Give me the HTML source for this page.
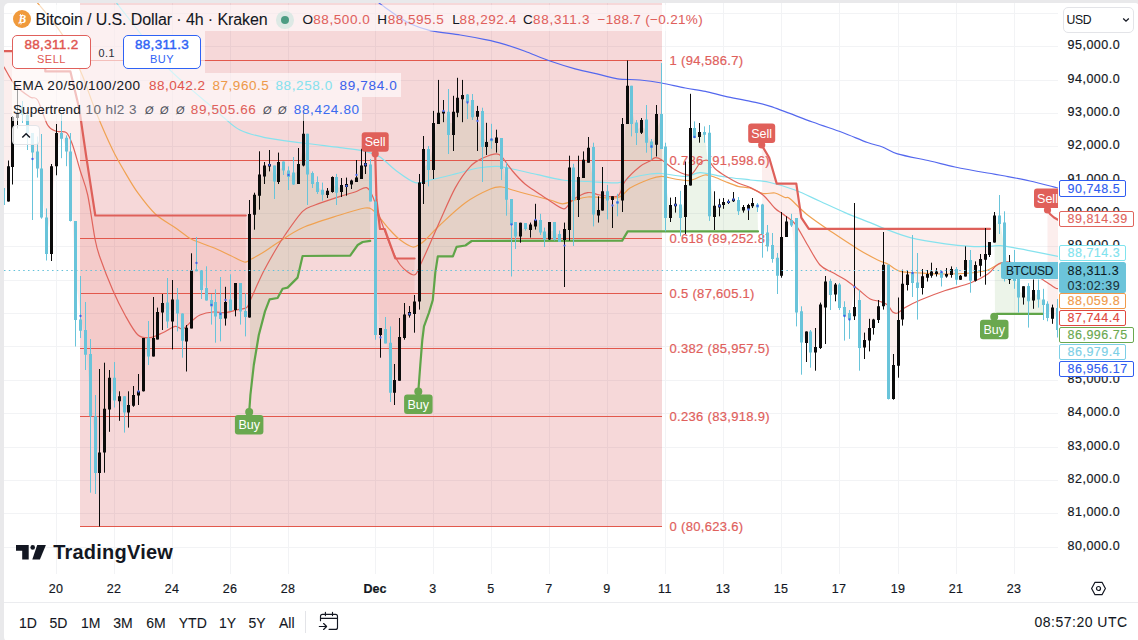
<!DOCTYPE html>
<html><head><meta charset="utf-8"><title>BTCUSD</title>
<style>
*{box-sizing:border-box;margin:0;padding:0}
html,body{width:1138px;height:640px;overflow:hidden;background:#e9e9eb;font-family:"Liberation Sans",sans-serif;color:#131722}
#panel{position:absolute;left:4px;top:3px;width:1135.5px;height:639px;background:#fff;border-radius:5px}
#root{position:absolute;left:0;top:0;width:1138px;height:640px}
.ov{position:absolute;background:rgba(255,255,255,.62)}
.t{position:absolute;white-space:nowrap;line-height:1;-webkit-text-stroke:.06px currentColor}
#axis{position:absolute;left:1058px;top:3px;width:80px;height:571px;background:#fff;border-top-right-radius:5px}
.pt{-webkit-text-stroke:.18px currentColor;position:absolute;left:1067.5px;font-size:12.5px;letter-spacing:.5px;line-height:17px;height:17px;white-space:nowrap;color:#131722}
.pl{-webkit-text-stroke:.15px currentColor;position:absolute;left:1059px;border:1px solid;border-radius:2px;font-size:12.5px;letter-spacing:.5px;white-space:nowrap}
.pl span{position:absolute;left:7.5px;top:50%;transform:translateY(-50%);line-height:1}
.tl{-webkit-text-stroke:.18px currentColor;position:absolute;top:581.6px;width:60px;text-align:center;font-size:12.5px;letter-spacing:.4px;line-height:14px}
.tl.b{font-weight:bold;letter-spacing:0}
.rg{-webkit-text-stroke:.1px currentColor;position:absolute;top:614.8px;width:50px;text-align:center;font-size:14px;letter-spacing:.05px;line-height:17px;color:#131722}
.btn{position:absolute;top:35px;height:34px;border:1.2px solid;border-radius:5px;background:#fff;text-align:center}
.btn b{display:block;font-weight:normal;-webkit-text-stroke:.42px currentColor;font-size:13.5px;line-height:13px;margin-top:2.2px;letter-spacing:.32px}
.btn i{display:block;font-style:normal;font-size:11px;line-height:12px;margin-top:1.6px;letter-spacing:.5px}
</style></head><body>
<div id="panel"></div>
<div id="root">
<svg width="1138" height="640" viewBox="0 0 1138 640" style="position:absolute;left:0;top:0">
<defs><clipPath id="pane"><rect x="4" y="3" width="1054" height="571"/></clipPath></defs>
<g clip-path="url(#pane)">
<path d="M4 547.5H1058 M4 513.5H1058 M4 480.5H1058 M4 447.5H1058 M4 413.5H1058 M4 380.5H1058 M4 346.5H1058 M4 313.5H1058 M4 280.5H1058 M4 246.5H1058 M4 213.5H1058 M4 180.5H1058 M4 146.5H1058 M4 113.5H1058 M4 80.5H1058 M4 46.5H1058 M4 13.5H1058 M56.5 3V574 M114.5 3V574 M172.5 3V574 M230.5 3V574 M288.5 3V574 M375.5 3V574 M433.5 3V574 M491.5 3V574 M549.5 3V574 M607.5 3V574 M665.5 3V574 M723.5 3V574 M781.5 3V574 M839.5 3V574 M898.5 3V574 M956.5 3V574 M1014.5 3V574" stroke="#f2f3f5" stroke-width="1" fill="none"/>
<rect x="80" y="3" width="582" height="523.5" fill="#d23a41" fill-opacity="0.2"/>
<g clip-path="url(#pane)"><path d="M4 547.5H1058 M4 513.5H1058 M4 480.5H1058 M4 447.5H1058 M4 413.5H1058 M4 380.5H1058 M4 346.5H1058 M4 313.5H1058 M4 280.5H1058 M4 246.5H1058 M4 213.5H1058 M4 180.5H1058 M4 146.5H1058 M4 113.5H1058 M4 80.5H1058 M4 46.5H1058 M4 13.5H1058 M56.5 3V574 M114.5 3V574 M172.5 3V574 M230.5 3V574 M288.5 3V574 M375.5 3V574 M433.5 3V574 M491.5 3V574 M549.5 3V574 M607.5 3V574 M665.5 3V574 M723.5 3V574 M781.5 3V574 M839.5 3V574 M898.5 3V574 M956.5 3V574 M1014.5 3V574" stroke="#000" stroke-opacity="0" stroke-width="1" fill="none"/></g>
<polygon points="4.0,51.2 45.3,51.2 45.3,71.4 70.4,71.4 79.2,108.4 86.4,157.6 95.3,215.5 245.8,215.5 245.5,314.4 240.5,300.5 235.5,298.1 230.5,298.9 225.5,308.2 220.5,312.5 215.5,312.6 211.5,306.2 206.5,288.9 201.5,282.5 196.5,262.3 191.5,295.2 186.5,341.4 182.5,331.3 177.5,308.0 172.5,312.5 167.5,307.5 162.5,309.9 157.5,324.6 153.5,337.0 148.5,345.1 143.5,364.7 138.5,391.4 133.5,398.4 128.5,409.1 124.5,409.5 119.5,402.4 114.5,386.9 109.5,397.2 104.5,424.2 99.5,455.3 95.5,444.6 90.5,400.5 85.5,339.2 80.5,316.1 75.5,277.1 70.5,181.7 66.5,147.7 61.5,135.9 56.5,149.6 51.5,211.3 46.5,235.1 41.5,184.7 37.5,158.5 32.5,159.6 27.5,127.9 22.5,111.5 17.5,111.9 12.5,146.1 8.5,182.5 3.5,195.8" fill="#e0574f" fill-opacity="0.1"/>
<polygon points="375.2,153.8 376.5,200.0 380.0,229.0 384.7,229.0 395.3,258.5 414.6,258.5 414.5,310.8 409.5,312.8 404.5,323.8 399.5,354.1 394.5,385.4 390.5,366.0 385.5,333.2 380.5,337.2 375.5,268.0" fill="#e0574f" fill-opacity="0.1"/>
<polygon points="761.7,145.0 769.2,157.7 776.7,183.6 796.3,183.6 801.3,217.6 808.8,228.9 990.0,228.9 989.5,249.0 985.5,256.6 980.5,263.8 975.5,272.1 970.5,270.9 965.5,264.9 960.5,277.6 956.5,275.1 951.5,272.0 946.5,274.1 941.5,277.1 936.5,272.5 931.5,271.9 927.5,275.8 922.5,281.9 917.5,285.8 912.5,271.9 907.5,280.0 902.5,299.7 898.5,340.2 893.5,379.4 888.5,332.0 883.5,278.1 878.5,312.3 873.5,325.2 869.5,334.7 864.5,344.8 859.5,327.2 854.5,286.6 849.5,320.4 844.5,316.3 839.5,296.4 835.5,290.8 830.5,291.2 825.5,302.3 820.5,326.1 815.5,349.6 810.5,345.4 806.5,341.9 801.5,333.7 796.5,268.8 791.5,221.6 786.5,227.9 781.5,250.6 777.5,270.1 772.5,249.9 767.5,238.8 762.5,225.0" fill="#e0574f" fill-opacity="0.1"/>
<polygon points="1047.5,210.0 1050.0,214.0 1054.0,217.5 1058.0,219.7 1058.0,300.0 1057.5,318.6 1052.5,313.7 1047.5,311.1" fill="#e0574f" fill-opacity="0.1"/>
<polygon points="250.4,395.0 253.8,365.0 258.8,335.0 265.0,311.4 269.6,299.4 277.6,298.0 282.6,288.8 287.6,287.6 297.6,277.6 302.6,256.0 350.2,255.6 357.7,245.0 362.7,242.0 370.2,240.8 370.5,181.6 365.5,163.6 361.5,168.1 356.5,175.4 351.5,183.5 346.5,186.1 341.5,188.0 336.5,187.1 332.5,184.5 327.5,192.9 322.5,191.9 317.5,186.1 312.5,179.1 307.5,161.8 303.5,143.9 298.5,170.0 293.5,174.8 288.5,176.0 283.5,167.1 278.5,170.2 274.5,177.9 269.5,162.9 264.5,172.0 259.5,182.8 254.5,207.9 249.5,262.3" fill="#5fa548" fill-opacity="0.12"/>
<polygon points="420.3,365.0 422.3,340.0 424.0,326.4 429.0,312.6 432.8,300.0 435.3,272.6 437.8,256.3 452.9,256.3 456.6,246.8 465.4,245.5 471.7,241.0 622.2,240.6 627.7,231.4 758.0,231.4 757.5,206.8 752.5,203.8 748.5,209.4 743.5,208.8 738.5,205.8 733.5,198.5 728.5,201.9 723.5,203.4 719.5,206.8 714.5,211.0 709.5,173.7 704.5,133.9 699.5,133.7 694.5,131.3 690.5,148.2 685.5,199.4 680.5,212.5 675.5,204.9 670.5,210.7 665.5,184.6 661.5,118.7 656.5,130.0 651.5,147.0 646.5,130.0 641.5,126.2 636.5,130.2 631.5,108.0 627.5,98.6 622.5,163.7 617.5,203.8 612.5,205.2 607.5,199.1 602.5,194.9 598.5,211.1 593.5,182.7 588.5,152.5 583.5,166.8 578.5,187.4 573.5,194.3 569.5,198.4 564.5,244.6 559.5,237.1 554.5,231.0 549.5,230.9 544.5,236.4 540.5,225.3 535.5,219.9 530.5,228.7 525.5,226.4 520.5,231.1 515.5,232.4 511.5,224.9 506.5,186.4 501.5,156.2 496.5,140.7 491.5,138.2 486.5,141.7 482.5,136.9 477.5,121.1 472.5,107.8 467.5,102.4 462.5,99.1 457.5,101.4 453.5,123.4 448.5,122.5 443.5,111.8 438.5,110.2 433.5,145.7 428.5,162.8 423.5,168.2 419.5,241.9" fill="#5fa548" fill-opacity="0.12"/>
<polygon points="995.0,314.5 997.0,313.8 1043.0,313.8 1043.5,303.4 1038.5,294.2 1033.5,294.7 1028.5,299.5 1023.5,293.7 1018.5,291.3 1014.5,273.9 1009.5,272.2 1004.5,248.6 999.5,217.1 994.5,228.2" fill="#5fa548" fill-opacity="0.12"/>
<path d="M80 60.5H662" stroke="#e2584c" stroke-width="1"/>
<path d="M80 160.5H662" stroke="#e2584c" stroke-width="1"/>
<path d="M80 238.5H662" stroke="#e2584c" stroke-width="1"/>
<path d="M80 293.5H662" stroke="#e2584c" stroke-width="1"/>
<path d="M80 348.5H662" stroke="#e2584c" stroke-width="1"/>
<path d="M80 416.5H662" stroke="#e2584c" stroke-width="1"/>
<path d="M80 526.5H662" stroke="#e2584c" stroke-width="1"/>
<text x="669.6" y="65.1" font-size="13" letter-spacing="0.3" stroke="#e0605c" stroke-width="0.2" fill="#e0605c" font-family="Liberation Sans, sans-serif">1 (94,586.7)</text>
<text x="669.6" y="164.8" font-size="13" letter-spacing="0.3" stroke="#e0605c" stroke-width="0.2" fill="#e0605c" font-family="Liberation Sans, sans-serif">0.786 (91,598.6)</text>
<text x="669.6" y="243.0" font-size="13" letter-spacing="0.3" stroke="#e0605c" stroke-width="0.2" fill="#e0605c" font-family="Liberation Sans, sans-serif">0.618 (89,252.8)</text>
<text x="669.6" y="298.0" font-size="13" letter-spacing="0.3" stroke="#e0605c" stroke-width="0.2" fill="#e0605c" font-family="Liberation Sans, sans-serif">0.5 (87,605.1)</text>
<text x="669.6" y="353.0" font-size="13" letter-spacing="0.3" stroke="#e0605c" stroke-width="0.2" fill="#e0605c" font-family="Liberation Sans, sans-serif">0.382 (85,957.5)</text>
<text x="669.6" y="421.0" font-size="13" letter-spacing="0.3" stroke="#e0605c" stroke-width="0.2" fill="#e0605c" font-family="Liberation Sans, sans-serif">0.236 (83,918.9)</text>
<text x="669.6" y="530.9" font-size="13" letter-spacing="0.3" stroke="#e0605c" stroke-width="0.2" fill="#e0605c" font-family="Liberation Sans, sans-serif">0 (80,623.6)</text>
<path d="M379.0 3.0C380.0 3.7 382.2 5.4 385.2 7.5C388.2 9.6 393.7 13.7 397.7 16.3C401.7 18.9 405.0 21.5 410.2 23.8C415.4 26.1 422.3 28.8 430.3 30.6C438.3 32.4 451.5 33.6 460.3 35.0C469.1 36.4 478.5 38.2 485.3 39.6C492.1 41.0 496.5 41.9 502.9 43.8C509.3 45.7 517.5 48.5 525.0 51.3C532.5 54.1 542.0 58.2 550.0 61.0C558.0 63.8 567.1 66.6 575.1 68.8C583.1 71.0 593.2 73.0 600.0 74.6C606.8 76.2 611.3 77.9 617.7 78.8C624.1 79.7 633.0 79.3 640.0 80.0C647.0 80.7 654.3 81.7 661.5 83.0C668.7 84.3 678.3 86.7 685.3 88.0C692.3 89.3 699.0 90.0 705.4 91.3C711.8 92.6 718.2 94.7 725.4 96.3C732.6 97.9 743.2 99.8 750.4 101.4C757.6 103.0 760.6 103.1 770.5 106.4C780.4 109.7 801.0 117.8 812.5 122.0C824.0 126.2 833.7 129.2 842.5 132.5C851.3 135.8 861.1 140.2 867.5 142.5C873.9 144.8 877.7 145.2 882.5 147.0C887.3 148.8 889.9 151.6 897.5 153.8C905.1 156.0 920.8 158.9 930.0 161.0C939.2 163.1 945.8 165.1 955.0 167.0C964.2 168.9 979.5 171.6 987.5 173.0C995.5 174.4 998.2 174.7 1005.0 176.0C1011.8 177.3 1021.5 179.1 1030.0 181.0C1038.5 182.9 1053.5 186.9 1058.0 188.0" fill="none" stroke="#5468ee" stroke-width="1.2" stroke-linejoin="round" stroke-linecap="round"/>
<path d="M116.5 3.0C119.9 7.3 130.3 20.5 137.7 30.0C145.1 39.5 154.8 53.6 162.8 62.6C170.8 71.6 179.8 79.2 187.8 86.4C195.8 93.6 206.9 102.5 212.9 107.7C218.9 112.9 221.1 115.4 225.4 119.0C229.7 122.6 233.7 127.0 240.0 130.0C246.3 133.0 255.0 135.5 265.0 137.6C275.0 139.7 290.6 141.4 302.6 143.0C314.6 144.6 330.0 146.3 340.0 147.6C350.0 148.9 358.6 149.8 365.0 151.3C371.4 152.8 375.2 154.0 380.0 157.0C384.8 160.0 389.7 165.9 395.3 170.0C400.9 174.1 409.7 181.0 415.3 182.6C420.9 184.2 423.9 181.4 430.3 180.0C436.7 178.6 447.8 175.8 455.4 173.9C463.0 172.0 471.2 169.2 478.0 168.0C484.8 166.8 492.5 166.2 498.0 166.4C503.5 166.6 506.2 167.7 512.5 169.0C518.8 170.3 529.6 172.9 537.6 174.7C545.6 176.5 554.6 178.9 562.6 180.0C570.6 181.1 578.9 181.1 587.7 181.5C596.5 181.9 610.9 183.4 617.7 182.8C624.5 182.2 625.0 179.4 630.2 178.0C635.4 176.6 645.3 174.7 650.3 174.0C655.3 173.3 655.9 173.1 661.5 173.5C667.1 173.9 679.1 176.6 685.3 176.5C691.5 176.4 694.0 172.6 700.4 172.7C706.8 172.8 717.4 175.8 725.4 177.0C733.4 178.2 743.3 179.1 750.4 180.0C757.5 180.9 762.9 180.9 770.0 182.5C777.1 184.1 787.0 187.0 795.0 190.0C803.0 193.0 812.0 197.7 820.0 201.3C828.0 204.9 837.0 209.2 845.0 212.6C853.0 216.0 863.8 220.0 870.2 222.6C876.6 225.2 878.8 226.5 885.2 228.9C891.6 231.3 900.6 235.2 910.2 237.6C919.8 240.0 935.7 242.5 945.3 243.9C954.9 245.3 963.2 246.0 970.4 246.4C977.6 246.8 985.6 246.5 990.4 246.4C995.2 246.3 995.6 245.2 1000.4 245.6C1005.2 246.0 1013.2 247.6 1020.4 248.9C1027.6 250.2 1039.5 252.7 1045.5 253.9C1051.5 255.1 1056.0 256.0 1058.0 256.4" fill="none" stroke="#86e2ee" stroke-width="1.2" stroke-linejoin="round" stroke-linecap="round"/>
<path d="M37.6 3.0C39.6 5.4 46.0 12.9 50.0 18.0C54.0 23.1 59.1 29.4 62.6 35.0C66.1 40.6 68.8 46.4 72.0 53.0C75.2 59.6 78.7 66.4 82.6 76.0C86.5 85.6 91.6 101.2 96.4 113.0C101.2 124.8 108.1 140.5 112.7 150.0C117.3 159.5 121.2 165.8 125.2 172.6C129.2 179.4 132.9 186.1 137.7 192.7C142.5 199.3 149.3 208.4 155.3 214.0C161.3 219.6 169.7 223.8 175.3 227.7C180.9 231.6 186.3 236.1 190.3 238.5C194.3 240.9 196.8 241.4 200.4 242.8C204.0 244.2 208.2 245.5 213.0 247.5C217.8 249.5 225.4 253.2 230.4 255.5C235.4 257.8 241.0 261.4 244.2 262.0C247.4 262.6 247.4 261.0 250.4 259.5C253.4 258.0 258.6 255.2 263.0 252.5C267.4 249.8 271.3 246.7 277.6 242.7C283.9 238.7 292.6 232.1 302.6 227.7C312.6 223.3 330.0 218.2 340.0 215.0C350.0 211.8 359.8 208.8 365.0 208.0C370.2 207.2 370.3 208.4 372.7 210.0C375.1 211.6 377.2 214.8 380.0 218.0C382.8 221.2 386.8 226.5 390.0 230.0C393.2 233.5 396.7 237.3 400.3 240.0C403.9 242.7 409.6 246.4 412.8 247.0C416.0 247.6 418.0 245.1 420.0 244.0C422.0 242.9 422.1 243.0 425.3 240.0C428.5 237.0 433.6 231.0 440.0 225.0C446.4 219.0 457.3 208.5 465.4 202.7C473.5 196.9 484.6 191.5 490.4 189.0C496.2 186.5 498.2 186.8 501.7 187.0C505.2 187.2 508.8 189.0 512.5 190.0C516.2 191.0 519.0 191.9 525.0 193.5C531.0 195.1 544.0 198.4 550.0 200.0C556.0 201.6 558.6 203.8 562.6 203.8C566.6 203.8 571.0 201.1 575.0 200.0C579.0 198.9 580.9 197.4 587.7 197.0C594.5 196.6 610.9 199.0 617.7 197.6C624.5 196.2 624.8 191.0 630.0 188.0C635.2 185.0 645.0 180.9 650.0 179.0C655.0 177.1 657.5 176.4 661.5 176.4C665.5 176.4 670.4 178.3 675.0 179.0C679.6 179.7 685.2 181.1 690.0 180.5C694.8 179.9 700.9 175.5 705.0 175.0C709.1 174.5 712.2 176.5 715.4 177.5C718.6 178.5 721.4 180.1 725.0 181.5C728.6 182.9 734.0 185.3 738.0 186.3C742.0 187.3 746.0 186.8 750.0 188.0C754.0 189.2 759.0 192.7 763.0 193.5C767.0 194.3 771.5 192.4 775.0 193.0C778.5 193.6 782.6 196.6 785.0 197.5C787.4 198.4 786.4 196.0 790.0 198.8C793.6 201.6 800.8 209.6 807.6 215.0C814.4 220.4 824.6 227.2 832.6 232.6C840.6 238.0 850.5 244.5 857.7 248.9C864.9 253.3 872.9 257.6 877.7 260.0C882.5 262.4 884.1 262.2 887.7 264.0C891.3 265.8 895.0 270.0 900.2 271.4C905.4 272.8 913.1 272.6 920.3 273.0C927.5 273.4 937.3 274.0 945.3 274.0C953.3 274.0 963.6 273.6 970.4 273.0C977.2 272.4 983.3 271.4 987.9 270.0C992.5 268.6 995.7 265.1 999.2 264.0C1002.7 262.9 1005.9 262.4 1010.0 263.0C1014.1 263.6 1020.2 266.4 1025.0 268.0C1029.8 269.6 1034.7 271.4 1040.0 273.0C1045.3 274.6 1055.1 277.4 1058.0 278.2" fill="none" stroke="#f0a252" stroke-width="1.2" stroke-linejoin="round" stroke-linecap="round"/>
<path d="M4.0 67.0C5.8 69.9 10.8 80.2 15.0 85.0C19.2 89.8 26.4 94.6 30.0 97.0C33.6 99.4 34.8 95.5 37.6 100.0C40.4 104.5 44.6 120.0 47.6 125.0C50.6 130.0 53.3 130.1 56.3 131.3C59.3 132.5 63.8 130.4 66.4 132.6C69.0 134.8 70.4 139.0 72.6 145.0C74.8 151.0 77.6 162.0 80.0 170.0C82.4 178.0 85.3 183.8 87.7 195.0C90.1 206.2 93.2 230.0 95.2 240.0C97.2 250.0 97.2 249.5 100.0 257.5C102.8 265.5 108.7 280.8 112.7 290.0C116.7 299.2 121.0 307.8 125.0 315.0C129.0 322.2 133.7 331.1 137.7 334.7C141.7 338.3 146.0 338.0 150.0 337.7C154.0 337.4 158.8 334.5 162.8 332.7C166.8 330.9 172.1 327.0 175.3 326.4C178.5 325.8 180.0 330.0 182.8 329.0C185.6 328.0 190.0 322.2 192.8 320.0C195.6 317.8 196.8 316.3 200.0 315.0C203.2 313.7 208.8 312.4 212.9 312.0C217.0 311.6 221.4 313.0 225.4 312.6C229.4 312.2 234.6 310.4 238.0 309.6C241.4 308.8 244.7 309.1 246.7 307.6C248.7 306.1 247.8 305.6 250.4 300.0C253.0 294.4 259.0 280.6 263.0 272.6C267.0 264.6 272.0 256.0 275.5 250.0C279.0 244.0 280.7 241.2 285.0 235.0C289.3 228.8 297.8 216.2 302.6 211.4C307.4 206.6 309.0 207.4 315.0 205.0C321.0 202.6 333.6 198.5 340.0 196.4C346.4 194.3 350.8 193.4 355.0 192.0C359.2 190.6 363.7 186.9 366.5 187.6C369.3 188.3 370.5 191.6 372.7 196.4C374.9 201.2 377.2 209.9 380.0 217.7C382.8 225.5 386.8 237.4 390.0 245.0C393.2 252.6 396.5 260.2 400.3 265.0C404.1 269.8 410.8 275.0 414.0 275.0C417.2 275.0 417.5 270.6 420.3 265.0C423.1 259.4 428.4 247.2 431.6 240.0C434.8 232.8 436.6 228.4 440.4 220.0C444.2 211.6 450.6 196.2 455.4 187.6C460.2 179.0 466.0 171.1 470.4 166.4C474.8 161.7 478.8 160.0 483.0 158.0C487.2 156.0 493.6 153.8 496.7 153.8C499.8 153.8 500.0 154.9 502.5 157.7C505.0 160.5 508.9 166.8 512.5 171.0C516.1 175.2 521.0 180.5 525.0 184.0C529.0 187.5 533.6 190.0 537.6 192.7C541.6 195.4 545.8 198.4 550.0 201.0C554.2 203.6 560.3 209.0 563.9 208.8C567.5 208.6 568.8 202.6 572.6 200.0C576.4 197.4 583.3 193.4 587.7 192.6C592.1 191.8 595.2 194.5 600.0 195.0C604.8 195.5 613.7 198.2 617.7 196.0C621.7 193.8 621.6 185.7 625.2 181.0C628.8 176.3 636.0 169.7 640.0 166.5C644.0 163.3 647.6 162.4 650.0 161.0C652.4 159.6 653.5 157.9 655.3 157.7C657.1 157.5 658.3 157.7 661.5 159.7C664.7 161.7 670.7 167.6 675.3 170.0C679.9 172.4 686.3 176.2 690.3 175.0C694.3 173.8 697.6 164.9 700.4 162.6C703.2 160.3 705.6 159.5 708.0 160.5C710.4 161.5 712.6 166.5 715.4 169.0C718.2 171.5 721.8 173.8 725.4 176.0C729.0 178.2 734.0 181.1 738.0 183.0C742.0 184.9 746.4 185.7 750.4 187.6C754.4 189.5 759.0 191.6 763.0 195.0C767.0 198.4 772.4 205.8 775.5 208.8C778.6 211.8 779.4 211.4 782.5 213.8C785.6 216.2 791.0 218.8 795.0 223.8C799.0 228.8 803.6 238.4 807.6 245.0C811.6 251.6 816.0 260.6 820.0 265.0C824.0 269.4 828.6 270.3 832.6 272.6C836.6 274.9 841.0 276.9 845.0 279.5C849.0 282.1 853.7 285.9 857.7 289.0C861.7 292.1 866.6 297.0 870.2 299.0C873.8 301.0 877.4 300.5 880.2 301.5C883.0 302.5 885.7 303.3 887.7 305.0C889.7 306.7 891.1 310.7 892.7 312.0C894.3 313.3 895.7 313.7 897.7 313.0C899.7 312.3 901.6 309.7 905.2 307.6C908.8 305.5 913.9 302.7 920.3 300.0C926.7 297.3 937.3 293.2 945.3 290.5C953.3 287.8 963.6 285.6 970.4 283.0C977.2 280.4 983.9 276.7 987.9 274.0C991.9 271.3 993.4 268.2 995.4 266.4C997.4 264.6 998.1 263.7 1000.4 263.0C1002.7 262.3 1006.9 261.5 1010.0 262.0C1013.1 262.5 1016.8 264.4 1020.0 266.0C1023.2 267.6 1026.5 269.9 1030.0 272.0C1033.5 274.1 1037.7 276.5 1041.7 279.0C1045.7 281.5 1052.4 286.1 1055.0 287.7C1057.6 289.3 1057.5 288.5 1058.0 288.7" fill="none" stroke="#e0645c" stroke-width="1.2" stroke-linejoin="round" stroke-linecap="round"/>
<polyline points="4.0,51.2 45.3,51.2 45.3,71.4 70.4,71.4 79.2,108.4 86.4,157.6 95.3,215.5 245.8,215.5" fill="none" stroke="#de605a" stroke-width="2.2" stroke-linejoin="round" stroke-linecap="round" />
<polyline points="375.2,153.8 376.5,200.0 380.0,229.0 384.7,229.0 395.3,258.5 414.6,258.5" fill="none" stroke="#de605a" stroke-width="2.2" stroke-linejoin="round" stroke-linecap="round" />
<polyline points="761.7,145.0 769.2,157.7 776.7,183.6 796.3,183.6 801.3,217.6 808.8,228.9 990.0,228.9" fill="none" stroke="#de605a" stroke-width="2.2" stroke-linejoin="round" stroke-linecap="round" />
<polyline points="1047.5,210.0 1050.0,214.0 1054.0,217.5 1058.0,219.7" fill="none" stroke="#de605a" stroke-width="2.2" stroke-linejoin="round" stroke-linecap="round" />
<polyline points="249.2,412.0 250.4,395.0 253.8,365.0 258.8,335.0 265.0,311.4 269.6,299.4 277.6,298.0 282.6,288.8 287.6,287.6 297.6,277.6 302.6,256.0 350.2,255.6 357.7,245.0 362.7,242.0 370.2,240.8" fill="none" stroke="#5fa548" stroke-width="2.2" stroke-linejoin="round" stroke-linecap="round" />
<polyline points="418.3,391.5 420.3,365.0 422.3,340.0 424.0,326.4 429.0,312.6 432.8,300.0 435.3,272.6 437.8,256.3 452.9,256.3 456.6,246.8 465.4,245.5 471.7,241.0 622.2,240.6 627.7,231.4 758.0,231.4" fill="none" stroke="#5fa548" stroke-width="2.2" stroke-linejoin="round" stroke-linecap="round" />
<polyline points="994.2,316.3 995.0,314.5 997.0,313.8 1043.0,313.8" fill="none" stroke="#5fa548" stroke-width="2.2" stroke-linejoin="round" stroke-linecap="round" />
<path d="M3.5 180.0V210.0 M22.5 101.0V123.0 M27.5 113.7V150.0 M32.5 133.0V220.0 M37.5 136.5V177.6 M41.5 134.0V218.7 M46.5 208.4V260.5 M61.5 113.7V158.2 M66.5 135.4V166.2 M70.5 133.0V221.5 M75.5 221.0V346.5 M80.5 276.0V338.0 M85.5 302.0V370.0 M90.5 339.0V492.7 M95.5 395.0V494.0 M114.5 362.0V407.5 M124.5 396.3V432.6 M148.5 321.0V365.0 M167.5 278.0V328.0 M177.5 288.0V331.4 M182.5 313.4V357.7 M196.5 237.0V271.3 M201.5 270.5V299.0 M206.5 266.3V300.6 M211.5 294.0V324.6 M215.5 289.3V342.7 M220.5 277.0V341.4 M230.5 274.3V311.0 M240.5 283.0V324.6 M245.5 293.3V336.4 M274.5 165.6V199.0 M283.5 161.4V175.0 M288.5 166.4V190.0 M293.5 157.0V185.0 M307.5 133.8V205.0 M312.5 171.4V188.0 M317.5 176.4V194.0 M322.5 182.6V200.7 M336.5 173.9V205.0 M370.5 159.0V201.4 M375.5 196.0V339.7 M385.5 317.0V343.4 M390.5 326.4V402.0 M428.5 146.0V186.4 M448.5 89.0V154.0 M467.5 94.0V119.0 M472.5 94.0V120.0 M482.5 107.7V182.0 M491.5 123.8V148.8 M501.5 138.0V180.0 M506.5 162.6V215.7 M511.5 199.0V276.5 M515.5 222.0V249.0 M525.5 223.0V230.6 M540.5 213.8V235.0 M544.5 227.6V247.0 M554.5 222.0V240.5 M559.5 230.6V242.0 M573.5 163.8V246.0 M593.5 142.7V226.4 M607.5 185.0V219.4 M617.5 193.8V216.3 M631.5 85.8V136.4 M636.5 120.0V145.0 M646.5 105.0V152.7 M651.5 139.0V159.7 M661.5 63.0V149.0 M665.5 142.7V231.4 M680.5 190.8V236.4 M694.5 121.4V138.0 M704.5 126.4V142.7 M709.5 125.0V220.9 M738.5 197.0V215.0 M757.5 203.0V212.0 M762.5 203.8V257.7 M767.5 225.0V251.4 M772.5 233.0V262.7 M777.5 253.0V294.0 M791.5 213.8V227.0 M796.5 218.0V326.4 M801.5 306.3V374.7 M810.5 330.0V367.7 M830.5 278.8V310.0 M839.5 283.0V310.0 M844.5 301.3V340.6 M849.5 310.0V338.9 M859.5 290.0V370.7 M888.5 264.7V399.5 M912.5 235.0V297.0 M917.5 253.0V319.6 M941.5 272.0V286.5 M956.5 267.0V284.7 M970.5 250.0V292.7 M999.5 195.0V234.0 M1004.5 211.3V281.5 M1014.5 250.0V288.8 M1018.5 276.0V312.6 M1028.5 283.2V327.6 M1038.5 279.5V307.6 M1043.5 288.8V320.0 M1047.5 301.3V321.3 M1057.5 299.0V337.5" stroke="#69c4da" stroke-width="1" fill="none"/>
<path d="M2 188.0h3V205.0h-3z M21 107.0h3V115.0h-3z M26 115.0h3V133.0h-3z M31 133.0h3V152.5h-3z M36 151.4h3V168.5h-3z M40 168.5h3V217.6h-3z M45 217.6h3V254.0h-3z M60 133.0h3V138.8h-3z M65 137.7h3V151.4h-3z M69 151.4h3V221.0h-3z M74 221.0h3V320.0h-3z M79 319.6h3V330.7h-3z M84 330.0h3V354.7h-3z M89 354.0h3V416.3h-3z M94 416.3h3V473.0h-3z M113 377.7h3V400.5h-3z M123 396.3h3V412.6h-3z M147 338.0h3V356.5h-3z M166 302.6h3V321.4h-3z M176 299.4h3V313.4h-3z M181 313.4h3V340.7h-3z M195 269.5h3V271.3h-3z M200 270.5h3V290.0h-3z M205 288.0h3V300.6h-3z M210 300.0h3V306.4h-3z M214 302.0h3V316.4h-3z M219 312.6h3V319.0h-3z M229 299.4h3V311.0h-3z M239 283.0h3V311.4h-3z M244 311.0h3V317.0h-3z M273 165.6h3V181.4h-3z M282 161.4h3V170.6h-3z M287 170.6h3V177.0h-3z M292 172.6h3V184.4h-3z M306 133.8h3V174.6h-3z M311 173.0h3V184.0h-3z M316 182.0h3V192.0h-3z M321 189.7h3V194.7h-3z M335 177.0h3V192.7h-3z M369 164.6h3V201.4h-3z M374 201.4h3V335.0h-3z M384 329.0h3V343.4h-3z M389 342.7h3V392.8h-3z M427 149.0h3V170.0h-3z M447 111.8h3V135.0h-3z M466 94.6h3V102.0h-3z M471 100.0h3V117.2h-3z M481 110.9h3V147.0h-3z M490 138.8h3V141.3h-3z M500 138.0h3V169.0h-3z M505 167.6h3V199.7h-3z M510 199.0h3V225.0h-3z M514 222.0h3V236.5h-3z M524 223.0h3V229.0h-3z M539 220.0h3V232.6h-3z M543 231.4h3V239.6h-3z M553 222.0h3V239.6h-3z M558 233.9h3V242.0h-3z M572 167.5h3V200.0h-3z M592 147.0h3V214.6h-3z M606 191.3h3V200.6h-3z M616 201.3h3V203.8h-3z M630 85.8h3V124.0h-3z M635 122.6h3V133.0h-3z M645 119.6h3V142.7h-3z M650 141.4h3V148.0h-3z M660 113.9h3V149.0h-3z M664 146.4h3V218.0h-3z M679 204.6h3V218.0h-3z M693 128.0h3V138.0h-3z M703 132.0h3V134.7h-3z M708 132.7h3V216.3h-3z M737 200.0h3V211.3h-3z M756 204.6h3V207.6h-3z M761 204.6h3V233.9h-3z M766 232.6h3V246.4h-3z M771 245.0h3V259.0h-3z M776 257.7h3V275.7h-3z M790 220.0h3V225.6h-3z M795 218.0h3V312.6h-3z M800 311.3h3V342.6h-3z M809 331.4h3V352.6h-3z M829 281.0h3V295.0h-3z M838 284.5h3V308.0h-3z M843 307.0h3V316.3h-3z M848 313.0h3V319.6h-3z M858 300.0h3V348.0h-3z M887 264.7h3V399.0h-3z M911 272.5h3V283.0h-3z M916 282.5h3V288.0h-3z M940 272.0h3V277.7h-3z M955 269.0h3V279.7h-3z M969 260.0h3V280.7h-3z M998 215.6h3V223.9h-3z M1003 222.6h3V279.0h-3z M1013 276.0h3V281.0h-3z M1017 279.0h3V297.5h-3z M1027 286.0h3V301.3h-3z M1037 290.0h3V299.6h-3z M1042 299.6h3V305.0h-3z M1046 303.8h3V318.0h-3z M1056 308.0h3V330.0h-3z" fill="#69c4da"/>
<path d="M8.5 160.5V201.6 M12.5 116.0V184.5 M17.5 88.6V128.5 M51.5 164.0V261.0 M56.5 124.0V175.3 M99.5 369.0V526.5 M104.5 362.7V472.7 M109.5 370.0V431.8 M119.5 391.3V420.8 M128.5 391.3V427.6 M133.5 386.0V406.8 M138.5 374.0V405.0 M143.5 338.0V391.5 M153.5 297.0V356.5 M157.5 307.6V339.4 M162.5 294.0V330.0 M172.5 280.0V349.4 M186.5 325.0V371.5 M191.5 253.3V328.4 M225.5 286.8V325.6 M235.5 283.0V316.4 M249.5 200.0V317.6 M254.5 192.7V229.7 M259.5 151.3V209.7 M264.5 162.0V184.0 M269.5 150.0V171.4 M278.5 152.6V184.0 M298.5 148.0V184.0 M303.5 110.0V166.4 M327.5 188.0V198.0 M332.5 176.4V192.7 M341.5 178.0V197.0 M346.5 177.6V195.7 M351.5 179.6V189.0 M356.5 160.0V182.0 M361.5 148.8V179.0 M365.5 151.0V174.0 M380.5 328.0V357.7 M394.5 364.0V405.0 M399.5 318.0V380.7 M404.5 303.0V339.7 M409.5 306.0V317.6 M414.5 295.0V332.7 M419.5 174.0V309.6 M423.5 136.0V204.0 M433.5 110.9V179.0 M438.5 79.9V124.0 M443.5 100.0V122.2 M453.5 95.8V151.0 M457.5 77.8V117.2 M462.5 79.9V122.2 M477.5 105.9V151.0 M486.5 122.8V155.0 M496.5 129.7V152.6 M520.5 222.7V242.7 M530.5 222.6V237.6 M535.5 203.8V229.6 M549.5 222.0V240.0 M564.5 222.6V287.0 M569.5 155.7V240.6 M578.5 155.7V217.0 M583.5 151.4V178.0 M588.5 137.0V162.7 M598.5 196.3V222.6 M602.5 167.0V210.6 M612.5 196.3V228.0 M622.5 118.0V212.0 M627.5 60.5V124.0 M641.5 118.0V134.0 M656.5 105.0V156.5 M670.5 197.6V222.0 M675.5 197.0V212.6 M685.5 161.5V234.0 M690.5 93.8V185.5 M699.5 123.0V142.7 M714.5 191.3V230.0 M719.5 198.8V216.3 M723.5 198.0V208.8 M728.5 199.5V204.0 M733.5 192.0V202.0 M743.5 205.0V212.6 M748.5 203.8V220.0 M752.5 198.0V208.0 M781.5 212.0V277.7 M786.5 216.3V237.0 M806.5 331.4V362.0 M815.5 328.0V370.7 M820.5 302.6V349.0 M825.5 276.0V344.0 M835.5 283.0V301.3 M854.5 203.0V320.0 M864.5 332.6V359.0 M869.5 318.8V351.4 M873.5 318.8V334.6 M878.5 300.0V323.0 M883.5 232.0V309.6 M893.5 354.0V399.7 M898.5 297.5V377.7 M902.5 269.7V325.6 M907.5 270.0V290.5 M922.5 269.0V294.5 M927.5 270.0V281.5 M931.5 262.7V277.7 M936.5 268.0V276.5 M946.5 268.0V277.7 M951.5 266.4V277.7 M960.5 275.0V280.0 M965.5 246.4V276.5 M975.5 261.4V281.5 M980.5 254.0V276.5 M985.5 228.0V284.7 M989.5 242.0V257.0 M994.5 212.0V242.6 M1009.5 255.0V284.0 M1023.5 286.3V304.6 M1033.5 279.5V308.8 M1052.5 304.6V323.8" stroke="#0b0b0b" stroke-width="1" fill="none"/>
<path d="M7 166.2h3V201.6h-3z M11 117.0h3V167.0h-3z M16 112.5h3V118.0h-3z M50 166.2h3V254.0h-3z M55 133.0h3V166.2h-3z M98 452.6h3V473.0h-3z M103 408.8h3V452.6h-3z M108 377.7h3V409.5h-3z M118 396.3h3V401.3h-3z M127 405.0h3V412.6h-3z M132 395.0h3V405.8h-3z M137 391.3h3V395.5h-3z M142 338.0h3V391.3h-3z M152 338.0h3V356.5h-3z M156 312.0h3V339.4h-3z M161 303.0h3V312.6h-3z M171 299.4h3V321.4h-3z M185 327.7h3V341.4h-3z M190 270.6h3V328.4h-3z M224 302.0h3V318.4h-3z M234 283.0h3V310.0h-3z M248 214.0h3V317.6h-3z M253 194.7h3V214.7h-3z M258 174.6h3V195.7h-3z M263 165.6h3V176.4h-3z M268 164.0h3V166.4h-3z M277 162.0h3V182.0h-3z M297 163.9h3V184.0h-3z M302 133.8h3V165.6h-3z M326 190.7h3V195.0h-3z M331 177.0h3V192.0h-3z M340 185.0h3V192.0h-3z M345 184.0h3V187.0h-3z M350 180.6h3V184.6h-3z M355 177.6h3V182.0h-3z M360 165.6h3V179.0h-3z M364 163.0h3V166.4h-3z M379 328.0h3V335.0h-3z M393 380.0h3V392.8h-3z M398 337.0h3V380.7h-3z M403 314.6h3V338.0h-3z M408 312.0h3V315.6h-3z M413 301.4h3V314.0h-3z M418 182.6h3V301.4h-3z M422 149.0h3V184.0h-3z M432 123.0h3V170.0h-3z M437 112.8h3V124.0h-3z M442 111.5h3V113.4h-3z M452 111.8h3V135.0h-3z M456 97.7h3V112.8h-3z M461 95.0h3V99.2h-3z M476 110.9h3V116.8h-3z M485 142.0h3V147.0h-3z M495 137.6h3V143.0h-3z M519 222.7h3V236.5h-3z M529 224.6h3V230.0h-3z M534 220.0h3V226.4h-3z M548 222.0h3V239.6h-3z M563 228.9h3V240.0h-3z M568 167.5h3V230.0h-3z M577 177.0h3V200.0h-3z M582 159.7h3V178.0h-3z M587 147.7h3V162.7h-3z M597 210.0h3V215.6h-3z M601 191.3h3V210.6h-3z M611 196.3h3V200.0h-3z M621 124.0h3V200.6h-3z M626 85.8h3V124.0h-3z M640 120.0h3V132.7h-3z M655 113.9h3V144.7h-3z M669 205.0h3V218.0h-3z M674 203.8h3V206.3h-3z M684 185.0h3V217.0h-3z M689 128.0h3V185.5h-3z M698 132.0h3V137.0h-3z M713 205.8h3V217.0h-3z M718 204.6h3V207.6h-3z M722 202.0h3V205.0h-3z M727 201.3h3V203.0h-3z M732 198.8h3V201.3h-3z M742 207.0h3V210.6h-3z M747 205.0h3V208.8h-3z M751 203.0h3V206.3h-3z M780 237.0h3V275.7h-3z M785 221.4h3V237.0h-3z M805 331.4h3V343.0h-3z M814 347.0h3V352.6h-3z M819 304.6h3V348.0h-3z M824 281.5h3V307.6h-3z M834 284.5h3V294.5h-3z M853 307.0h3V316.3h-3z M863 340.0h3V347.6h-3z M868 328.0h3V340.6h-3z M872 319.6h3V328.0h-3z M877 306.3h3V320.0h-3z M882 264.7h3V306.3h-3z M892 365.0h3V399.0h-3z M897 320.0h3V365.7h-3z M901 283.8h3V319.6h-3z M906 274.5h3V285.0h-3z M921 276.3h3V288.0h-3z M926 274.0h3V277.7h-3z M930 271.4h3V275.7h-3z M935 271.4h3V274.0h-3z M945 274.0h3V276.5h-3z M950 269.0h3V275.0h-3z M959 275.7h3V279.7h-3z M964 260.0h3V276.5h-3z M974 265.0h3V280.7h-3z M979 259.0h3V265.7h-3z M984 254.0h3V259.7h-3z M988 242.0h3V255.0h-3z M993 215.6h3V242.6h-3z M1008 270.0h3V279.7h-3z M1022 286.3h3V297.5h-3z M1032 290.0h3V300.6h-3z M1051 307.6h3V318.8h-3z" fill="#0b0b0b"/>
<circle cx="32.5" cy="159.0" r="1.15" fill="#3f62e8"/>
<circle cx="80.5" cy="316.0" r="1.15" fill="#3f62e8"/>
<circle cx="138.5" cy="391.5" r="1.15" fill="#3f62e8"/>
<circle cx="196.5" cy="263.0" r="1.15" fill="#3f62e8"/>
<circle cx="211.5" cy="305.0" r="1.15" fill="#3f62e8"/>
<circle cx="220.5" cy="314.0" r="1.15" fill="#3f62e8"/>
<circle cx="225.5" cy="300.0" r="1.15" fill="#3f62e8"/>
<circle cx="269.5" cy="165.0" r="1.15" fill="#3f62e8"/>
<circle cx="288.5" cy="175.0" r="1.15" fill="#3f62e8"/>
<circle cx="346.5" cy="186.0" r="1.15" fill="#3f62e8"/>
<circle cx="356.5" cy="175.0" r="1.15" fill="#3f62e8"/>
<circle cx="365.5" cy="164.5" r="1.15" fill="#3f62e8"/>
<circle cx="380.5" cy="337.5" r="1.15" fill="#3f62e8"/>
<circle cx="409.5" cy="314.0" r="1.15" fill="#3f62e8"/>
<circle cx="443.5" cy="111.0" r="1.15" fill="#3f62e8"/>
<circle cx="467.5" cy="102.5" r="1.15" fill="#3f62e8"/>
<circle cx="477.5" cy="121.0" r="1.15" fill="#3f62e8"/>
<circle cx="491.5" cy="139.5" r="1.15" fill="#3f62e8"/>
<circle cx="511.5" cy="224.5" r="1.15" fill="#3f62e8"/>
<circle cx="535.5" cy="220.0" r="1.15" fill="#3f62e8"/>
<circle cx="564.5" cy="245.6" r="1.15" fill="#3f62e8"/>
<circle cx="612.5" cy="205.5" r="1.15" fill="#3f62e8"/>
<circle cx="617.5" cy="202.5" r="1.15" fill="#3f62e8"/>
<circle cx="651.5" cy="146.5" r="1.15" fill="#3f62e8"/>
<circle cx="694.5" cy="137.0" r="1.15" fill="#3f62e8"/>
<circle cx="675.5" cy="205.0" r="1.15" fill="#3f62e8"/>
<circle cx="719.5" cy="206.0" r="1.15" fill="#3f62e8"/>
<circle cx="728.5" cy="202.0" r="1.15" fill="#3f62e8"/>
<circle cx="733.5" cy="199.5" r="1.15" fill="#3f62e8"/>
<circle cx="748.5" cy="209.5" r="1.15" fill="#3f62e8"/>
<circle cx="757.5" cy="206.0" r="1.15" fill="#3f62e8"/>
<circle cx="844.5" cy="316.0" r="1.15" fill="#3f62e8"/>
<circle cx="849.5" cy="319.5" r="1.15" fill="#3f62e8"/>
<circle cx="854.5" cy="287.0" r="1.15" fill="#3f62e8"/>
<circle cx="912.5" cy="273.0" r="1.15" fill="#3f62e8"/>
<circle cx="941.5" cy="272.0" r="1.15" fill="#3f62e8"/>
<path d="M4 270.5H1058" stroke="#63c1d9" stroke-width="1" stroke-dasharray="1.5 3.3"/>
<circle cx="375.2" cy="153.8" r="3.6" fill="#e0605a"/>
<rect x="361.7" y="132.3" width="27" height="19.5" rx="3" fill="#e0605a"/>
<text x="375.2" y="146.3" font-size="12.5" fill="#fff" text-anchor="middle" font-family="Liberation Sans, sans-serif">Sell</text>
<circle cx="761.7" cy="145.0" r="3.6" fill="#e0605a"/>
<rect x="748.2" y="123.5" width="27" height="19.5" rx="3" fill="#e0605a"/>
<text x="761.7" y="137.5" font-size="12.5" fill="#fff" text-anchor="middle" font-family="Liberation Sans, sans-serif">Sell</text>
<circle cx="1047.5" cy="210.0" r="3.6" fill="#e0605a"/>
<rect x="1034.0" y="188.5" width="27" height="19.5" rx="3" fill="#e0605a"/>
<text x="1047.5" y="202.5" font-size="12.5" fill="#fff" text-anchor="middle" font-family="Liberation Sans, sans-serif">Sell</text>
<circle cx="249.2" cy="412.0" r="4" fill="#6aa84f"/>
<rect x="234.9" y="415.0" width="28.5" height="19.5" rx="3" fill="#6aa84f"/>
<text x="249.2" y="429.0" font-size="12.5" fill="#fff" text-anchor="middle" font-family="Liberation Sans, sans-serif">Buy</text>
<circle cx="418.3" cy="391.5" r="4" fill="#6aa84f"/>
<rect x="404.1" y="394.5" width="28.5" height="19.5" rx="3" fill="#6aa84f"/>
<text x="418.3" y="408.5" font-size="12.5" fill="#fff" text-anchor="middle" font-family="Liberation Sans, sans-serif">Buy</text>
<circle cx="994.2" cy="316.8" r="4" fill="#6aa84f"/>
<rect x="980.0" y="319.8" width="28.5" height="19.5" rx="3" fill="#6aa84f"/>
<text x="994.2" y="333.8" font-size="12.5" fill="#fff" text-anchor="middle" font-family="Liberation Sans, sans-serif">Buy</text>
</g>
</svg>
<!-- legend overlays -->
<div class="ov" style="left:12px;top:5px;width:693px;height:26px"></div>
<div class="ov" style="left:12px;top:31px;width:193px;height:42px"></div>
<div class="ov" style="left:12px;top:73px;width:389px;height:24px"></div>
<div class="ov" style="left:12px;top:97px;width:350px;height:24px"></div>
<!-- title row -->
<div style="position:absolute;left:13px;top:10px;width:18px;height:18px;border-radius:50%;background:#f09a3c"></div>
<svg style="position:absolute;left:13px;top:10px" width="18" height="18" viewBox="0 0 18 18"><text x="9.3" y="13.2" font-size="11.5" font-weight="bold" font-style="italic" text-anchor="middle" fill="#fff" font-family="Liberation Serif, serif">B</text><path d="M7.6 4.2l-.5 1.6M9.6 4.5l-.5 1.6M6.3 12.6l-.5 1.6M8.3 12.9l-.5 1.6" stroke="#fff" stroke-width="1"/></svg>
<div class="t" style="left:35.4px;top:11.9px;font-size:16px;letter-spacing:-0.101px;color:#131722;-webkit-text-stroke:.08px #131722;">Bitcoin / U.S. Dollar · 4h · Kraken</div>
<div style="position:absolute;left:276px;top:11px;width:17.5px;height:17.5px;border-radius:50%;background:#dde9e5"></div>
<div style="position:absolute;left:280.7px;top:15.7px;width:8px;height:8px;border-radius:50%;background:#4c9c83"></div>
<div class="t" style="left:302.6px;top:12.6px;font-size:13.5px;letter-spacing:-0.500px;color:#131722;">O</div><div class="t" style="left:313.3px;top:12.6px;font-size:13.5px;letter-spacing:0.569px;color:#e0605c;">88,500.0</div><div class="t" style="left:377.2px;top:12.6px;font-size:13.5px;letter-spacing:0.050px;color:#131722;">H</div><div class="t" style="left:387.7px;top:12.6px;font-size:13.5px;letter-spacing:0.506px;color:#e0605c;">88,595.5</div><div class="t" style="left:452.3px;top:12.6px;font-size:13.5px;letter-spacing:-0.308px;color:#131722;">L</div><div class="t" style="left:459.6px;top:12.6px;font-size:13.5px;letter-spacing:0.594px;color:#e0605c;">88,292.4</div><div class="t" style="left:523px;top:12.6px;font-size:13.5px;letter-spacing:-0.150px;color:#131722;">C</div><div class="t" style="left:533px;top:12.6px;font-size:13.5px;letter-spacing:0.706px;color:#e0605c;">88,311.3</div><div class="t" style="left:597.5px;top:12.6px;font-size:13.5px;letter-spacing:0.328px;color:#e0605c;">−188.7 (−0.21%)</div>
<!-- buy sell -->
<div class="btn" style="left:12px;width:79px;border-color:#e0605c;color:#e0554f"><b>88,311.2</b><i>SELL</i></div>
<div class="t" style="left:98.5px;top:47.6px;font-size:10.8px;letter-spacing:.5px;color:#2a2e39">0.1</div>
<div class="btn" style="left:123px;width:78px;border-color:#2e62f5;color:#2e62f5"><b>88,311.3</b><i>BUY</i></div>
<!-- EMA row -->
<div class="t" style="left:13px;top:79px;font-size:13.5px;letter-spacing:0.524px;color:#131722;">EMA 20/50/100/200</div><div class="t" style="left:149px;top:79px;font-size:13.5px;letter-spacing:0.506px;color:#e0574f;">88,042.2</div><div class="t" style="left:212.4px;top:79px;font-size:13.5px;letter-spacing:0.556px;color:#ee9a4a;">87,960.5</div><div class="t" style="left:275.5px;top:79px;font-size:13.5px;letter-spacing:0.594px;color:#86e2ee;">88,258.0</div><div class="t" style="left:339.6px;top:79px;font-size:13.5px;letter-spacing:0.656px;color:#3b62ec;">89,784.0</div>
<div class="t" style="left:13px;top:103px;font-size:13.5px;letter-spacing:0.100px;color:#131722;">Supertrend</div><div class="t" style="left:85.6px;top:103px;font-size:13.5px;letter-spacing:0.395px;color:#6a6d78;">10 hl2 3</div><div class="t" style="left:144.6px;top:104.6px;font-size:11px;letter-spacing:0.044px;color:#4a4e59;transform:skewX(-8deg);-webkit-text-stroke:0;">Ø</div><div class="t" style="left:160.2px;top:104.6px;font-size:11px;letter-spacing:0.044px;color:#4a4e59;transform:skewX(-8deg);-webkit-text-stroke:0;">Ø</div><div class="t" style="left:175.9px;top:104.6px;font-size:11px;letter-spacing:0.044px;color:#4a4e59;transform:skewX(-8deg);-webkit-text-stroke:0;">Ø</div><div class="t" style="left:190.8px;top:103px;font-size:13.5px;letter-spacing:0.627px;color:#e0605c;">89,505.66</div><div class="t" style="left:262.6px;top:104.6px;font-size:11px;letter-spacing:0.044px;color:#4a4e59;transform:skewX(-8deg);-webkit-text-stroke:0;">Ø</div><div class="t" style="left:278.2px;top:104.6px;font-size:11px;letter-spacing:0.044px;color:#4a4e59;transform:skewX(-8deg);-webkit-text-stroke:0;">Ø</div><div class="t" style="left:293.8px;top:103px;font-size:13.5px;letter-spacing:0.649px;color:#3b6cf0;">88,424.80</div>
<!-- collapse button -->
<div style="position:absolute;left:12px;top:124.5px;width:28px;height:20.5px;border:1px solid #e3e4e8;border-radius:4px;background:rgba(255,255,255,.8)"></div>
<svg style="position:absolute;left:12px;top:124.5px" width="28" height="20.5" viewBox="0 0 28 20.5"><path d="M10.3 12.6l3.8-3.8 3.8 3.8" fill="none" stroke="#131722" stroke-width="1.4"/></svg>
<!-- BTCUSD tag -->
<div style="position:absolute;left:1000.5px;top:262px;width:57.5px;height:16.5px;background:#6cc4da;border-radius:2px 0 0 2px"></div>
<div class="t" style="left:1006px;top:264.8px;font-size:12px;letter-spacing:-0.390px;color:#10222a;">BTCUSD</div>
<!-- price axis -->
<div id="axis"></div>
<div class="pt" style="top:537.6px">80,000.0</div><div class="pt" style="top:504.2px">81,000.0</div><div class="pt" style="top:470.9px">82,000.0</div><div class="pt" style="top:437.5px">83,000.0</div><div class="pt" style="top:404.2px">84,000.0</div><div class="pt" style="top:370.8px">85,000.0</div><div class="pt" style="top:237.4px">89,000.0</div><div class="pt" style="top:204.0px">90,000.0</div><div class="pt" style="top:170.6px">91,000.0</div><div class="pt" style="top:137.3px">92,000.0</div><div class="pt" style="top:103.9px">93,000.0</div><div class="pt" style="top:70.6px">94,000.0</div><div class="pt" style="top:37.2px">95,000.0</div>
<div class="pl" style="top:180px;height:17px;width:67px;border-color:#2f5cf0;background:#fff;color:#2f5cf0"><span>90,748.5</span></div><div class="pl" style="top:211px;height:16px;width:75px;border-color:#e0645c;background:#fff;color:#e0645c"><span>89,814.39</span></div><div class="pl" style="top:245px;height:16px;width:67px;border-color:#7fe3ee;background:#fff;color:#7fe3ee"><span>88,714.3</span></div><div class="pl" style="top:293px;height:16px;width:67px;border-color:#f09a4a;background:#fff;color:#f09a4a"><span>88,059.8</span></div><div class="pl" style="top:310px;height:16px;width:67px;border-color:#e0483e;background:#fff;color:#e0483e"><span>87,744.4</span></div><div class="pl" style="top:327px;height:16px;width:75px;border-color:#6aa84f;background:#fff;color:#6aa84f"><span>86,996.75</span></div><div class="pl" style="top:344px;height:16px;width:67px;border-color:#7ccfe6;background:#fff;color:#7ccfe6"><span>86,979.4</span></div><div class="pl" style="top:361px;height:16px;width:75px;border-color:#2f5cf0;background:#fff;color:#2f5cf0"><span>86,956.17</span></div>
<div style="position:absolute;left:1059px;top:262px;width:67px;height:31px;background:#6cc4da;border-radius:2.5px"></div>
<div class="t" style="left:1067.5px;top:264.5px;font-size:12.5px;letter-spacing:.5px;color:#0e1c22">88,311.3</div>
<div class="t" style="left:1067.5px;top:279.5px;font-size:12.5px;letter-spacing:.5px;color:#1b3038">03:02:39</div>
<div style="position:absolute;left:1063px;top:7px;width:71px;height:26px;border:1px solid #e3e4e8;border-radius:5px;background:#fff"></div>
<div class="t" style="left:1066.4px;top:13.6px;font-size:12.2px;letter-spacing:-0.253px;color:#131722;">USD</div>
<svg style="position:absolute;left:1122px;top:16px" width="8" height="8" viewBox="0 0 8 8"><path d="M1.2 2.6L4 5.2 6.8 2.6" fill="none" stroke="#131722" stroke-width="1.3"/></svg>
<!-- time axis -->
<div style="position:absolute;left:4px;top:574px;width:1134px;height:28px;background:#fff"></div>
<div class="tl" style="left:26.0px">20</div><div class="tl" style="left:84.0px">22</div><div class="tl" style="left:142.0px">24</div><div class="tl" style="left:200.0px">26</div><div class="tl" style="left:258.0px">28</div><div class="tl b" style="left:345.0px">Dec</div><div class="tl" style="left:403.0px">3</div><div class="tl" style="left:461.0px">5</div><div class="tl" style="left:519.0px">7</div><div class="tl" style="left:577.0px">9</div><div class="tl" style="left:635.0px">11</div><div class="tl" style="left:693.0px">13</div><div class="tl" style="left:751.0px">15</div><div class="tl" style="left:809.0px">17</div><div class="tl" style="left:868.0px">19</div><div class="tl" style="left:926.0px">21</div><div class="tl" style="left:984.0px">23</div>
<svg style="position:absolute;left:1090px;top:580px" width="17" height="17" viewBox="0 0 17 17"><path d="M5 2.3h7l3.4 6.2-3.4 6.2h-7L1.6 8.5z" fill="none" stroke="#131722" stroke-width="1.2" stroke-linejoin="round"/><circle cx="8.5" cy="8.5" r="2" fill="none" stroke="#131722" stroke-width="1.2"/></svg>
<!-- bottom toolbar -->
<div style="position:absolute;left:4px;top:602px;width:1134px;height:1px;background:#ebecef"></div>
<div class="rg" style="left:3.0px">1D</div><div class="rg" style="left:33.5px">5D</div><div class="rg" style="left:65.8px">1M</div><div class="rg" style="left:98.0px">3M</div><div class="rg" style="left:131.0px">6M</div><div class="rg" style="left:167.8px">YTD</div><div class="rg" style="left:202.5px">1Y</div><div class="rg" style="left:232.0px">5Y</div><div class="rg" style="left:261.8px">All</div>
<div style="position:absolute;left:305px;top:611px;width:1px;height:22px;background:#e3e4e8"></div>
<svg style="position:absolute;left:300px;top:604px" width="60" height="34" viewBox="300 604 60 34"><path d="M320.500 620.700V616.400a2 2 0 0 1 2-2h13a2 2 0 0 1 2 2v11a2 2 0 0 1-2 2H329.100M320.500 618.300H337.500M325.400 612.400v3.200M332.500 612.400v3.200M319.300 626.500h7M323.600 623.500l3 3-3 3" fill="none" stroke="#131722" stroke-width="1.15" stroke-linecap="round" stroke-linejoin="round"/></svg>
<div class="t" style="left:1034.5px;top:615px;font-size:14px;letter-spacing:0.495px;color:#131722;">08:57:20 UTC</div>
<!-- TradingView logo -->
<svg style="position:absolute;left:0;top:540px" width="190" height="30" viewBox="0 540 190 30"><path d="M16 545h12.700v14.400h-6.500v-8.700h-6.200z" fill="#131722"/><circle cx="32.700" cy="547.400" r="2.300" fill="#131722"/><path d="M37.200 545h8.700l-6 14.400h-7.600z" fill="#131722"/><text x="53.200" y="559.400" font-size="20" font-weight="bold" letter-spacing="0.22" fill="#131722" font-family="Liberation Sans, sans-serif">TradingView</text></svg>
</div>
</body></html>
